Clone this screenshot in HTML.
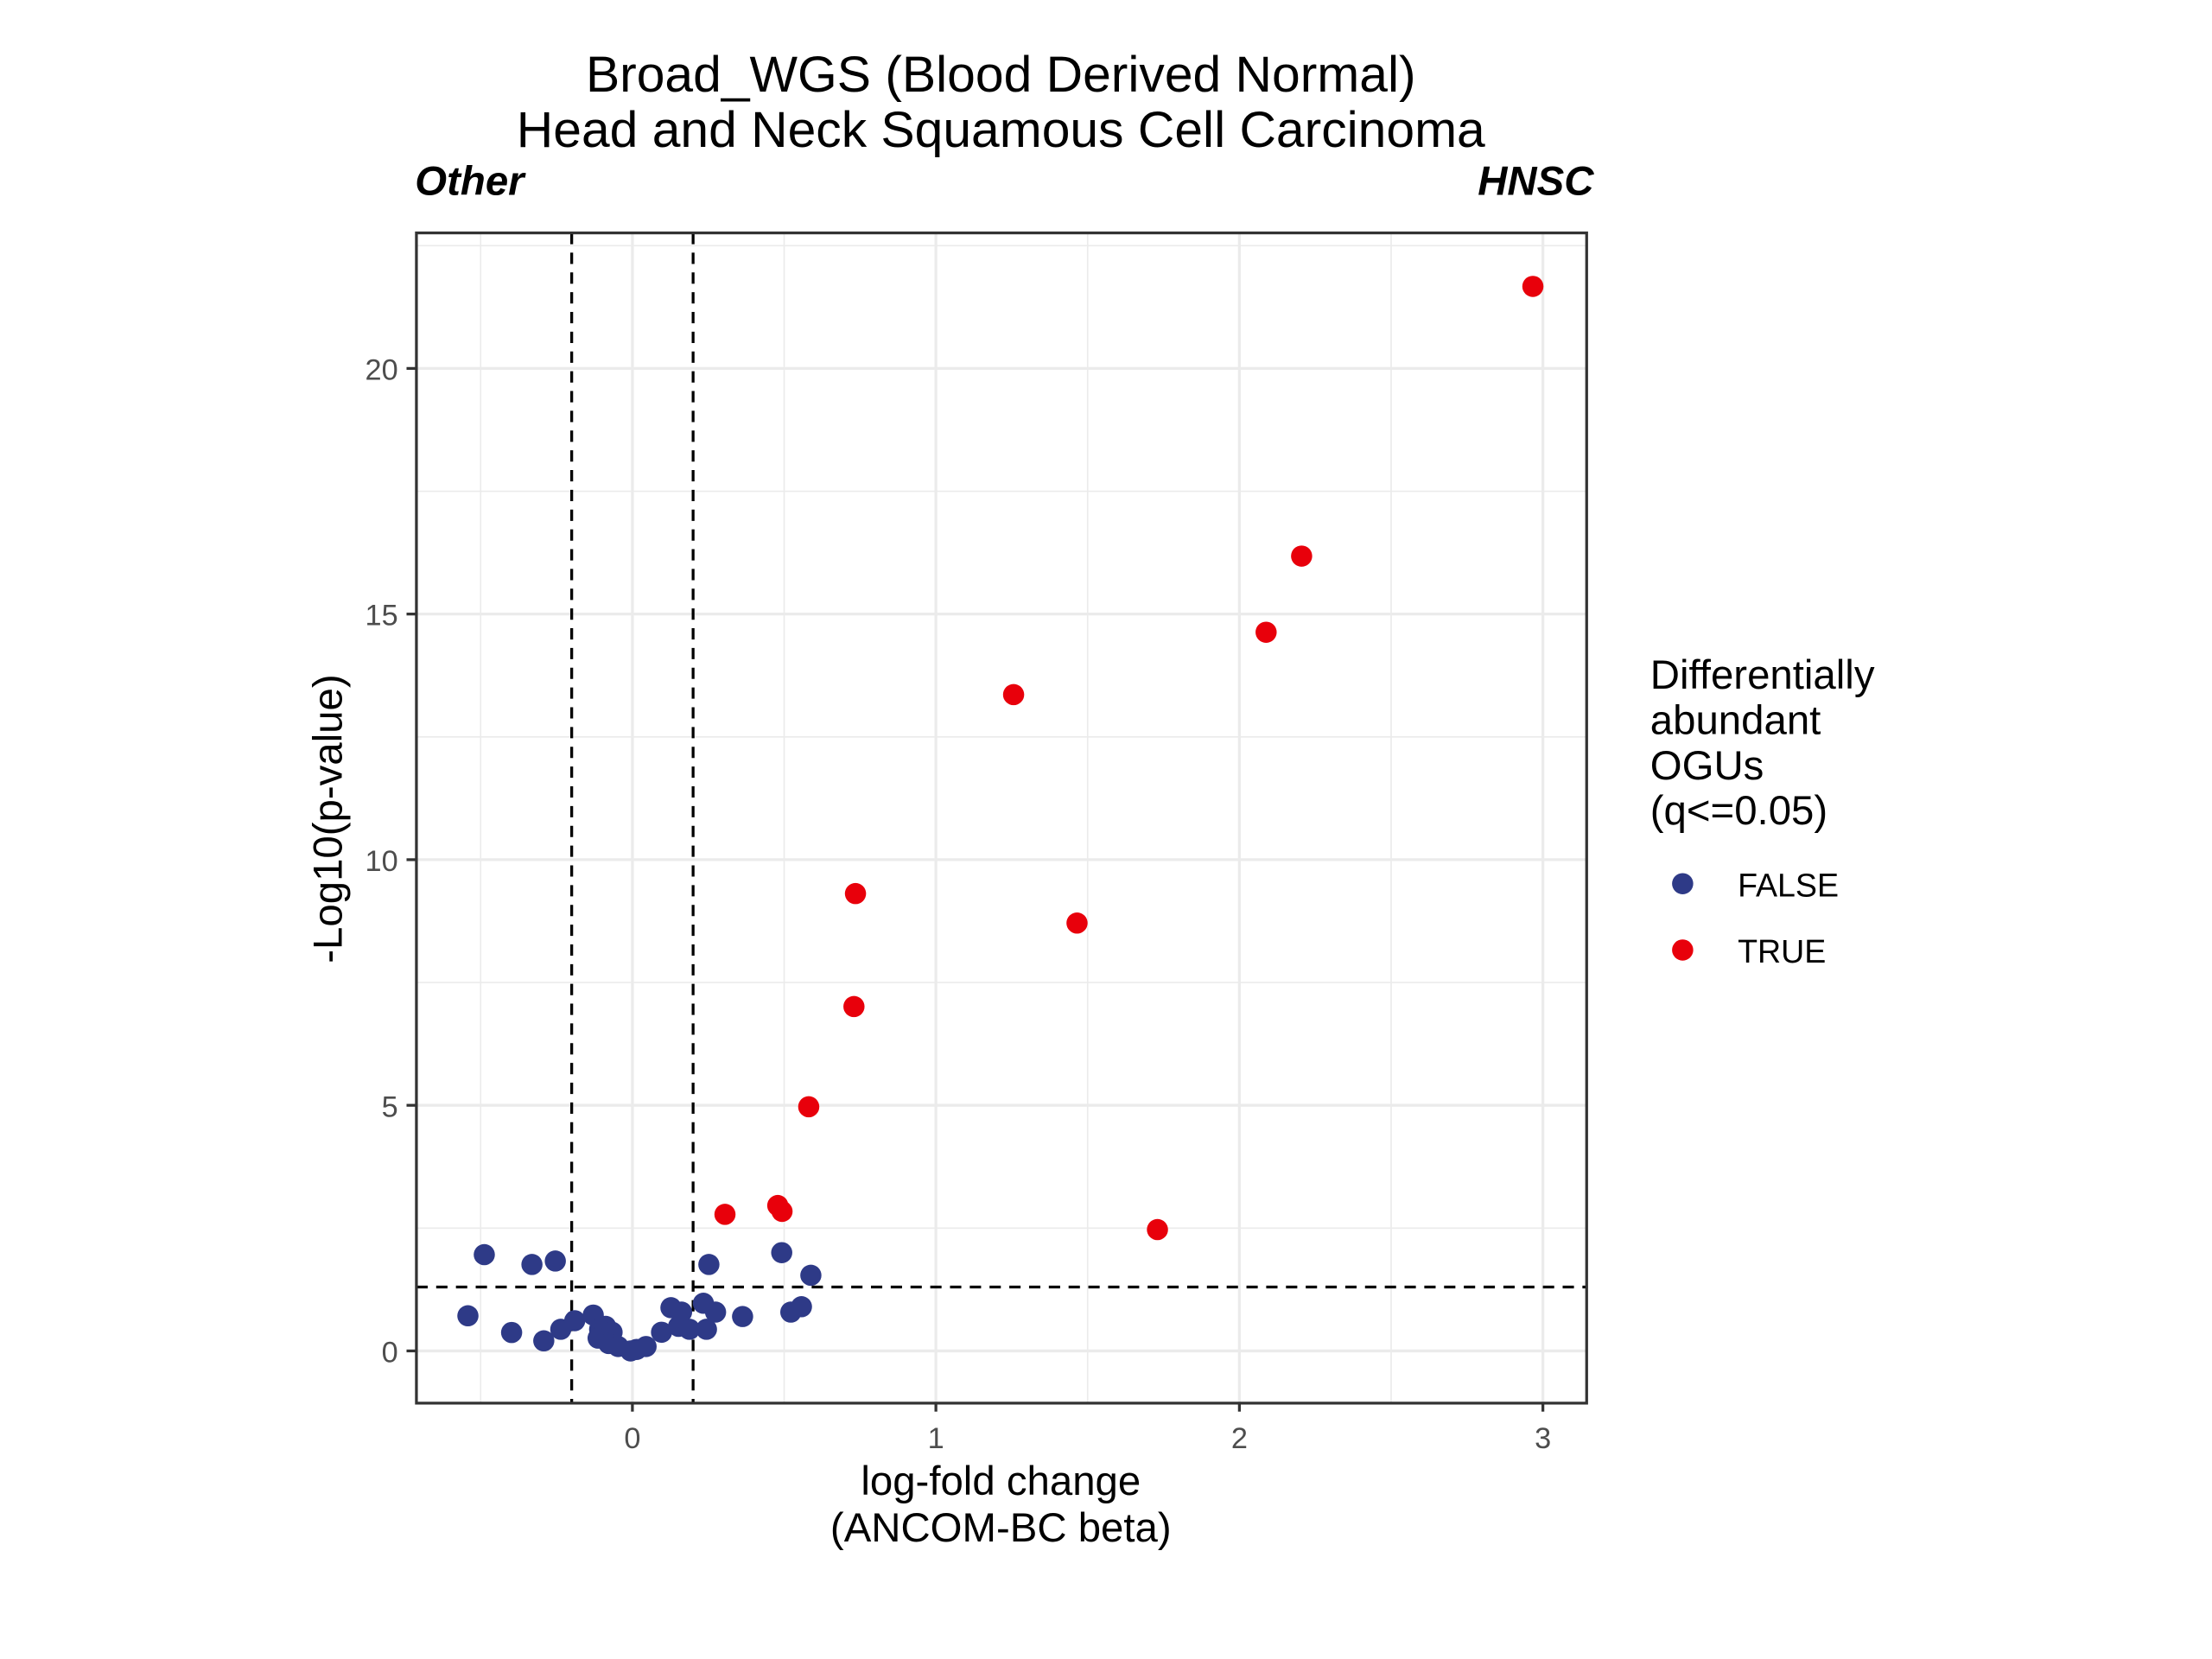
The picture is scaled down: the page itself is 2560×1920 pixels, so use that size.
<!DOCTYPE html>
<html><head><meta charset="utf-8"><style>
html,body{margin:0;padding:0;background:#fff}
svg{display:block;font-family:"Liberation Sans",Arial,sans-serif}
</style></head><body>
<svg id="chart" width="2560" height="1920" viewBox="0 0 1567 1175.25" xmlns="http://www.w3.org/2000/svg">
<rect width="1567" height="1176" fill="#fff"/>
<text x="709" y="65" font-size="36" text-anchor="middle" fill="#000">Broad_WGS (Blood Derived Normal)</text>
<text x="709" y="104" font-size="36" text-anchor="middle" fill="#000">Head and Neck Squamous Cell Carcinoma</text>
<text x="294" y="138" font-size="29" font-weight="bold" font-style="italic">Other</text>
<text x="1129" y="138" font-size="29" font-weight="bold" font-style="italic" text-anchor="end">HNSC</text>
<g id="grid"></g>
<g id="ticks"></g>
<g id="refs"></g>
<g id="points"></g>
<rect x="295" y="165" width="829" height="829" fill="none" stroke="#333" stroke-width="2"/>
<text x="709" y="1059" font-size="29" text-anchor="middle">log-fold change</text>
<text x="709" y="1092" font-size="29" text-anchor="middle">(ANCOM-BC beta)</text>
<text transform="translate(242,580) rotate(-90)" font-size="29" text-anchor="middle">-Log10(p-value)</text>
<g>
<text font-size="29" x="1169">
<tspan x="1169" y="488">Differentially</tspan><tspan x="1169" y="520">abundant</tspan><tspan x="1169" y="552">OGUs</tspan><tspan x="1169" y="584">(q&lt;=0.05)</tspan></text>
<circle cx="1192" cy="626" r="7.5" fill="#2e3a87"/>
<text x="1231" y="635" font-size="23">FALSE</text>
<circle cx="1192" cy="673" r="7.5" fill="#e8000b"/>
<text x="1231" y="682" font-size="23">TRUE</text>
</g>
</svg>
<script>
const xTicks=[0,1,2,3];
const yTicks=[0,5,10,15,20];
const blueX=[-0.488,-0.542,-0.331,-0.254,-0.398,-0.292,-0.236,-0.190,-0.129,-0.108,-0.088,-0.067,-0.113,-0.078,-0.047,-0.006,0.014,0.045,0.096,0.127,0.162,0.152,0.188,0.234,0.274,0.244,0.252,0.363,0.492,0.588,0.522,0.557];
const blueY=[1.96,0.715,1.76,1.83,0.375,0.205,0.44,0.615,0.73,0.44,0.50,0.38,0.26,0.15,0.09,0.0,0.03,0.09,0.38,0.88,0.79,0.50,0.44,0.97,0.79,0.44,1.76,0.70,2.00,1.54,0.79,0.90];
const redX=[2.967,2.205,2.088,1.256,0.735,1.465,0.730,0.581,0.305,0.479,0.493,1.730];
const redY=[21.67,16.18,14.63,13.36,9.31,8.71,7.01,4.97,2.78,2.96,2.84,2.47];
const X0=295,X1=1124,Y0=165,Y1=994;
function sx(v){return 448+215*v;}
function sy(v){return 957-34.8*v;}
const NS="http://www.w3.org/2000/svg";
function mk(tag,attrs,parent){const e=document.createElementNS(NS,tag);for(const k in attrs)e.setAttribute(k,attrs[k]);parent.appendChild(e);return e;}
const grid=document.getElementById('grid');
for(let v=-0.5;v<=3.01;v+=0.5){const major=Math.abs(v-Math.round(v))<1e-6;
const l=mk('line',{x1:sx(v),x2:sx(v),y1:Y0,y2:Y1,stroke:'#ebebeb','stroke-width':major?2:1},grid);

}
for(let v=0;v<=22.51;v+=2.5){const major=v%5===0;
const l=mk('line',{x1:X0,x2:X1,y1:sy(v),y2:sy(v),stroke:'#ebebeb','stroke-width':major?2:1},grid);

}
const ticks=document.getElementById('ticks');
xTicks.forEach(v=>{const t=mk('line',{x1:sx(v),x2:sx(v),y1:Y1,y2:Y1+6,stroke:'#333','stroke-width':2},ticks);


const tx=mk('text',{x:sx(v),y:Y1+32,'font-size':21,'text-anchor':'middle',fill:'#4d4d4d'},ticks);tx.textContent=v;

});
yTicks.forEach(v=>{const t=mk('line',{x1:X0-7,x2:X0,y1:sy(v),y2:sy(v),stroke:'#333','stroke-width':2},ticks);


const tx=mk('text',{x:X0-13,y:sy(v)+8,'font-size':21,'text-anchor':'end',fill:'#4d4d4d'},ticks);tx.textContent=v;

});
const refs=document.getElementById('refs');
[-0.2,0.2].forEach(v=>{const l=mk('line',{x1:sx(v),x2:sx(v),y1:Y0,y2:Y1,stroke:'#000','stroke-width':2,'stroke-dasharray':'8,6'},refs);

});
const hl=mk('line',{x1:X0,x2:X1,y1:sy(1.30103),y2:sy(1.30103),stroke:'#000','stroke-width':2,'stroke-dasharray':'8,6'},refs);


const pts=document.getElementById('points');
blueX.forEach((v,i)=>{const c=mk('circle',{cx:sx(v),cy:sy(blueY[i]),r:7.5,fill:'#2e3a87'},pts);

});
redX.forEach((v,i)=>{const c=mk('circle',{cx:sx(v),cy:sy(redY[i]),r:7.5,fill:'#e8000b'},pts);

});
</script>
</body></html>
